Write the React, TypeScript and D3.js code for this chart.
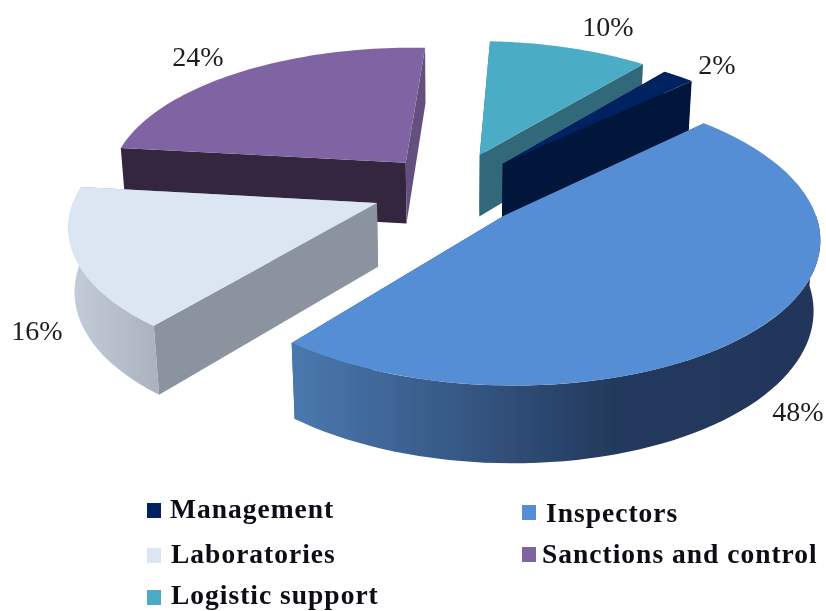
import React from "react";
import * as d3 from "d3";

// values, pie order is clockwise
const categories = ["Management", "Inspectors", "Laboratories", "Sanctions and control", "Logistic support"];
const shares = [2, 48, 16, 24, 10];
const percentLabels = ["2%", "48%", "16%", "24%", "10%"];

const topColors = ["#002060", "#558ed5", "#dce6f2", "#8064a2", "#4bacc6"];
const wallColors = ["#00133a", "#2f5282", "#8b949e", "#35263f", "#33697a"];
const sideColors = ["#00133a", "#3f6ca6", "#8b949e", "#65507f", "#33697a"];

// left, middle and right colour of the curved rim
const rimStops = [
  ["#00133a", "#00133a", "#00133a"],
  ["#4a78ae", "#23395c", "#20355a"],
  ["#c2cbd6", "#b3bcc8", "#a9b2bd"],
  ["#35263f", "#35263f", "#35263f"],
  ["#33697a", "#33697a", "#33697a"],
];

// text and legend placement
const labelPos = [[717, 74], [798, 421], [37, 340], [198, 66], [608, 36]];
const legendPos = [
  { sx: 147, sy: 503, tx: 170, ty: 518 },
  { sx: 522, sy: 505, tx: 546, ty: 522 },
  { sx: 147, sy: 548, tx: 171, ty: 563 },
  { sx: 522, sy: 547, tx: 542, ty: 563 },
  { sx: 147, sy: 590, tx: 171, ty: 604 },
];

// pie geometry with a small perspective
const cx = 450;
const cy = 190;
const explode = 80;
const squash = 0.458;
const persp = 0.00045;
const perspZ = 0.00025;
const sliceRadius = [300, 304, 300, 300, 300];
const sliceDepth = [60, 70, 64, 63, 64];
const sliceNudge = [[0, 0], [-6, 0], [2, -1], [6, 0], [2, -2]];

const pie = d3.pie<number>().sort(null).value((d) => d)
  .startAngle((39 * Math.PI) / 180)
  .endAngle((399 * Math.PI) / 180);
const arcs = pie(shares);

type Pt = [number, number];
const line = d3.line<Pt>();

const project = (i: number, a: number, r: number, z: number): Pt => {
  const mid = (arcs[i].startAngle + arcs[i].endAngle) / 2;
  const X = explode * Math.sin(mid) + r * Math.sin(a);
  const Y = explode * Math.cos(mid) + r * Math.cos(a);
  const s = 1 / (1 + persp * Y + perspZ * z);
  return [cx + sliceNudge[i][0] + s * X, cy + sliceNudge[i][1] + s * (-squash * Y + z)];
};

const arcPoints = (i: number, a0: number, a1: number, z: number): Pt[] =>
  d3.range(0, 61).map((k) => project(i, a0 + ((a1 - a0) * k) / 60, sliceRadius[i], z));

export default function App() {
  const order = [3, 4, 0, 2, 1]; // back slices first
  return (
    <svg width={826} height={611} style={{ position: "absolute", left: 0, top: 0 }}>
      <defs>
        {/* the reference is a slightly soft scan */}
        <filter id="soft" x="0" y="0" width="100%" height="100%">
          <feGaussianBlur stdDeviation="0.5" />
        </filter>
        {arcs.map((d, i) => {
          const pts = arcPoints(i, d.startAngle, d.endAngle, sliceDepth[i]);
          const xs = d3.extent(pts, (p) => p[0]) as [number, number];
          return (
            <linearGradient key={i} id={`rim${i}`} gradientUnits="userSpaceOnUse" x1={xs[0]} x2={xs[1]} y1={0} y2={0}>
              <stop offset="0" stopColor={rimStops[i][0]} />
              <stop offset="0.62" stopColor={rimStops[i][1]} />
              <stop offset="1" stopColor={rimStops[i][2]} />
            </linearGradient>
          );
        })}
      </defs>
      <g filter="url(#soft)">
        {order.map((i) => {
          const d = arcs[i];
          const h = sliceDepth[i];
          const apexTop = project(i, 0, 0, 0);
          const apexBot = project(i, 0, 0, h);
          const wall = (a: number) =>
            [apexTop, project(i, a, sliceRadius[i], 0), project(i, a, sliceRadius[i], h), apexBot] as Pt[];
          const top = [apexTop, ...arcPoints(i, d.startAngle, d.endAngle, 0)];
          // the rim only shows on the near half of the circle
          const a0 = Math.max(d.startAngle, Math.PI / 2);
          const a1 = Math.min(d.endAngle, (3 * Math.PI) / 2);
          const rim = a1 > a0 ? [...arcPoints(i, a0, a1, 0), ...arcPoints(i, a0, a1, h).reverse()] : null;
          return (
            <g key={i}>
              <path d={line(wall(d.startAngle)) + "Z"} fill={wallColors[i]} />
              <path d={line(wall(d.endAngle)) + "Z"} fill={i === 3 ? sideColors[i] : wallColors[i]} />
              {rim && <path d={line(rim) + "Z"} fill={`url(#rim${i})`} />}
              <path d={line(top) + "Z"} fill={topColors[i]} />
            </g>
          );
        })}
        <g fontFamily="'Liberation Serif', serif" fontSize={28} fill="#1f1f1f" textAnchor="middle">
          {percentLabels.map((t, i) => (
            <text key={t} x={labelPos[i][0]} y={labelPos[i][1]}>{t}</text>
          ))}
        </g>
        <g fontFamily="'Liberation Serif', serif" fontSize={27.5} fontWeight="bold" letterSpacing={1} fill="#0a0a14">
          {categories.map((c, i) => (
            <g key={c}>
              <rect x={legendPos[i].sx} y={legendPos[i].sy} width={14} height={15} fill={topColors[i]} />
              <text x={legendPos[i].tx} y={legendPos[i].ty}>{c}</text>
            </g>
          ))}
        </g>
      </g>
    </svg>
  );
}
